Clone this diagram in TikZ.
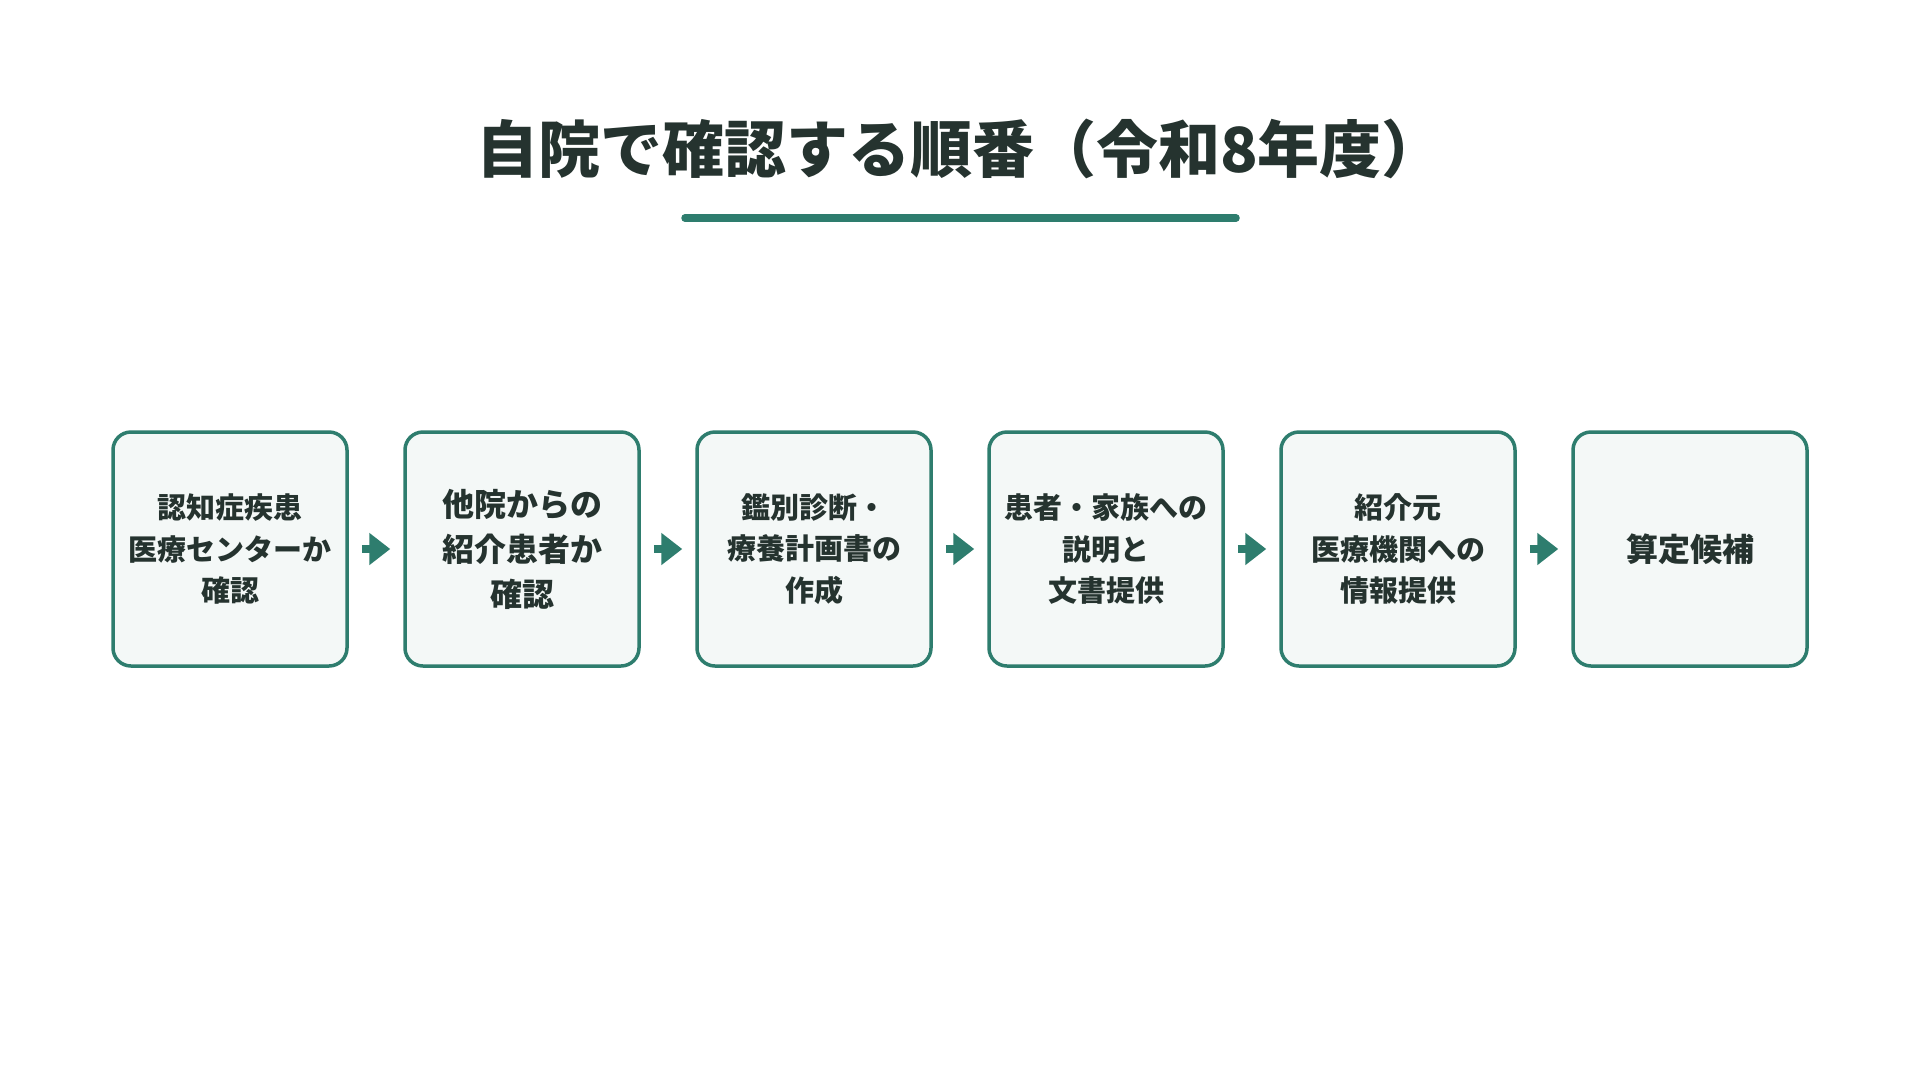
\documentclass[tikz,border=0pt]{standalone}
\usepackage{fontspec}
\newfontfamily\jp{Noto Sans CJK JP}
\usetikzlibrary{arrows.meta}
\definecolor{tealc}{HTML}{2E7D6E}
\definecolor{boxfill}{HTML}{F4F8F7}
\definecolor{ink}{HTML}{25332F}
\newcommand\boxfontA{\fontsize{29}{41.5}\selectfont}
\newcommand\boxfontB{\fontsize{32}{45}\selectfont}
\begin{document}
\begin{tikzpicture}[x=1pt,y=-1pt,
  stepbox/.style={draw=tealc, line width=3.5pt, fill=boxfill, rounded corners=18pt,
    minimum width=234pt, minimum height=234pt, inner sep=0pt, align=center, text=ink},
  arr/.style={draw=tealc, line width=7.5pt, -{Triangle[length=21pt,width=31pt]},
    shorten <=13pt, shorten >=13pt}]
\useasboundingbox (0,0) rectangle (1920,1080);
\fill[white] (0,0) rectangle (1920,1080);
\node[font=\jp\bfseries\fontsize{62}{70}\selectfont, text=ink] (title) at (960,149) {自院で確認する順番（令和8年度）};
\coordinate (u1) at (685,218);
\coordinate (u2) at (1236,218);
\draw[tealc, line width=7.5pt, line cap=round] (u1) -- (u2);
\node[stepbox, font=\jp\bfseries\boxfontA] (s1) at (230,549) {認知症疾患\\医療センターか\\確認};
\node[stepbox, font=\jp\bfseries\boxfontB] (s2) at (522,549) {他院からの\\紹介患者か\\確認};
\node[stepbox, font=\jp\bfseries\boxfontA] (s3) at (814,549) {鑑別診断・\\療養計画書の\\作成};
\node[stepbox, font=\jp\bfseries\boxfontA] (s4) at (1106,549) {患者・家族への\\説明と\\文書提供};
\node[stepbox, font=\jp\bfseries\boxfontA] (s5) at (1398,549) {紹介元\\医療機関への\\情報提供};
\node[stepbox, font=\jp\bfseries\boxfontB] (s6) at (1690,549) {算定候補};
\draw[arr] (s1) -- (s2);
\draw[arr] (s2) -- (s3);
\draw[arr] (s3) -- (s4);
\draw[arr] (s4) -- (s5);
\draw[arr] (s5) -- (s6);
\end{tikzpicture}
\end{document}
